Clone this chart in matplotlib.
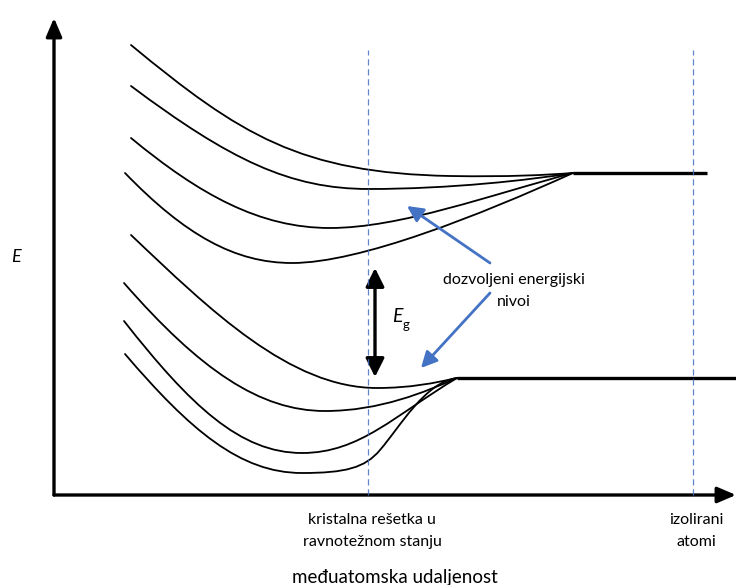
import matplotlib
matplotlib.use("Agg")
import matplotlib.pyplot as plt
from matplotlib.path import Path
from matplotlib.patches import PathPatch, FancyArrowPatch

# --- Band curves (cubic Bezier vertices: start, then control, control, end) --
# x: interatomic distance, y: energy (figure-pixel units, y up)
upper_bands = [
    [(131, 540), (240, 450), (300, 412), (450, 409), (510, 408), (545, 410), (573, 412)],
    [(131, 499), (230, 425), (290, 396), (369, 396), (450, 396), (530, 405), (573, 412)],
    [(131, 447), (200, 390), (260, 357), (330, 357), (400, 357), (490, 390), (573, 412)],
    [(125, 412), (185, 350), (235, 322), (292, 322), (360, 322), (480, 370), (573, 412)],
]
lower_bands = [
    [(131, 350), (210, 275), (290, 197), (377, 197), (410, 197), (435, 202), (457, 207)],
    [(124, 302), (200, 215), (260, 174), (325, 174), (380, 174), (425, 193), (457, 207)],
    [(124, 264), (190, 180), (240, 132), (302, 132), (360, 132), (395, 170), (457, 207)],
    [(125, 231), (190, 155), (240, 112), (302, 112), (345, 112), (365, 117), (380, 135),
     (400, 158), (425, 203), (457, 207)],
]
upper_level = (573, 707, 412)   # x start, x end, energy
lower_level = (457, 736, 207)

origin = (54, 90)
y_axis_top = 567
x_axis_right = 736
markers_x = [368, 693]
marker_top = 535

gap_x, gap_bottom, gap_top = 375, 208, 317

blue = "#4472C4"
font = ["Lato", "DejaVu Sans"]

fig = plt.figure(figsize=(7.36, 5.85), dpi=100)
ax = fig.add_axes([0, 0, 1, 1])
ax.set_xlim(0, 736)
ax.set_ylim(0, 585)
ax.axis("off")


def bezier(points, lw):
    codes = [Path.MOVETO] + [Path.CURVE4] * (len(points) - 1)
    ax.add_patch(PathPatch(Path(points, codes), fill=False, lw=lw,
                           edgecolor="black", capstyle="round"))


for pts in upper_bands + lower_bands:
    bezier(pts, 1.3)

for x0, x1, e in (upper_level, lower_level):
    ax.plot([x0, x1], [e, e], color="black", lw=2.4, solid_capstyle="butt")

# --- axes arrows -------------------------------------------------------------
arrow_kw = dict(arrowstyle="-|>,head_length=0.7,head_width=0.3", color="black",
                lw=2.4, shrinkA=0, shrinkB=0, mutation_scale=16)
ax.add_patch(FancyArrowPatch(origin, (origin[0], y_axis_top), **arrow_kw))
ax.add_patch(FancyArrowPatch(origin, (x_axis_right, origin[1]), **arrow_kw))

for xm in markers_x:
    ax.plot([xm, xm], [origin[1], marker_top], color=blue, lw=0.9,
            ls=(0, (5, 3)), alpha=0.85)

# band gap arrow
ax.add_patch(FancyArrowPatch((gap_x, gap_bottom), (gap_x, gap_top),
                             arrowstyle="<|-|>,head_length=0.7,head_width=0.35",
                             color="black", lw=2.4, shrinkA=0, shrinkB=0,
                             mutation_scale=16))

# blue pointers
for tail, head in [((490, 322), (407, 379)), ((490, 292), (421, 217))]:
    ax.add_patch(FancyArrowPatch(tail, head,
                                 arrowstyle="-|>,head_length=0.6,head_width=0.3",
                                 color=blue, lw=2.0, shrinkA=0, shrinkB=0,
                                 mutation_scale=16))

# --- text --------------------------------------------------------------------
ax.text(16, 328, "E", fontsize=13, style="italic", family=font,
        ha="center", va="center")
ax.text(392, 268, "E", fontsize=14, style="italic", family=font,
        ha="left", va="center")
ax.text(403, 260, "g", fontsize=9.5, family=font, ha="left", va="center")

label_size = 11.5
ax.text(514, 305, "dozvoljeni energijski", fontsize=label_size, family=font,
        ha="center", va="center")
ax.text(514, 283, "nivoi", fontsize=label_size, family=font,
        ha="center", va="center")
ax.text(372, 65, "kristalna rešetka u", fontsize=label_size, family=font,
        ha="center", va="center")
ax.text(372, 43, "ravnotežnom stanju", fontsize=label_size, family=font,
        ha="center", va="center")
ax.text(696, 65, "izolirani", fontsize=label_size, family=font,
        ha="center", va="center")
ax.text(696, 43, "atomi", fontsize=label_size, family=font,
        ha="center", va="center")
ax.text(395, 8, "međuatomska udaljenost", fontsize=13.5, family=font,
        ha="center", va="center")

fig.savefig("out.png", dpi=100)
